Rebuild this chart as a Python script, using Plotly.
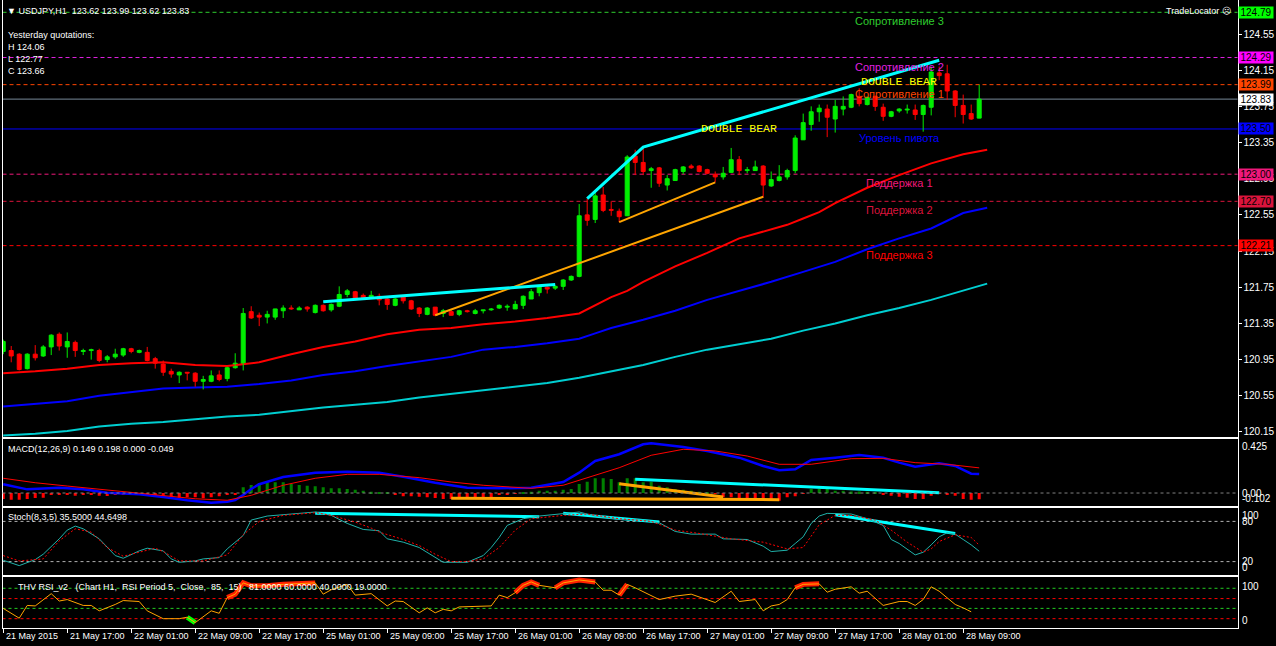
import plotly.graph_objects as go

W, H = 1276, 646

# ---------------------------
# DATOS: velas USDJPY H1
# ---------------------------

opens = [121.04,121.05,121.01,120.85,121.01,120.99,121.09,121.23,121.09,121.14,
         121.04,121.05,121.05,120.95,120.98,121.00,121.07,121.03,121.03,120.96,
         120.90,120.82,120.78,120.81,120.80,120.71,120.71,120.78,120.74,120.86,
         120.90,121.48,121.44,121.42,121.42,121.49,121.52,121.50,121.53,121.47,
         121.55,121.50,121.54,121.67,121.70,121.66,121.63,121.65,121.62,121.55,
         121.64,121.60,121.52,121.45,121.53,121.46,121.48,121.45,121.49,121.46,
         121.49,121.50,121.52,121.53,121.51,121.55,121.62,121.69,121.75,121.74,
         121.76,121.83,121.87,122.55,122.50,122.77,122.61,122.59,122.54,123.20,
         123.13,123.04,123.07,122.88,122.93,123.03,123.09,123.09,123.05,123.00,
         122.97,123.02,123.16,123.04,123.04,123.09,122.87,122.93,122.97,123.04,
         123.38,123.55,123.69,123.72,123.61,123.72,123.74,123.86,123.77,123.86,
         123.74,123.64,123.70,123.71,123.71,123.66,123.74,124.12,124.11,123.92,
         123.76,123.67,123.62]
highs = [121.17,121.10,121.02,121.02,121.11,121.11,121.23,121.25,121.25,121.16,
         121.07,121.07,121.07,121.00,121.07,121.08,121.08,121.06,121.09,120.98,
         120.94,120.85,120.82,120.81,120.81,120.77,120.83,120.83,120.87,121.02,
         121.52,121.54,121.47,121.49,121.51,121.55,121.55,121.54,121.54,121.56,
         121.56,121.57,121.76,121.73,121.71,121.68,121.71,121.68,121.63,121.63,
         121.65,121.61,121.53,121.53,121.53,121.51,121.51,121.50,121.50,121.51,
         121.50,121.52,121.56,121.56,121.60,121.66,121.73,121.77,121.76,121.77,
         121.84,121.88,122.67,122.73,122.80,122.86,122.70,122.62,123.21,123.27,
         123.30,123.08,123.08,122.99,123.06,123.09,123.11,123.10,123.06,123.03,
         123.08,123.29,123.20,123.08,123.15,123.10,123.03,123.10,123.06,123.43,
         123.67,123.75,123.77,123.77,123.82,123.86,123.89,123.95,123.86,123.87,
         123.78,123.70,123.73,123.77,123.77,123.77,124.19,124.19,124.21,123.93,
         123.88,123.77,123.99]
lows = [121.01,120.92,120.83,120.84,120.94,120.98,121.00,121.05,120.97,120.98,
        121.00,120.95,120.92,120.92,120.96,120.98,121.02,121.02,120.93,120.85,
        120.77,120.75,120.69,120.72,120.65,120.62,120.70,120.71,120.71,120.85,
        120.83,121.40,121.32,121.35,121.39,121.41,121.50,121.50,121.48,121.46,
        121.48,121.48,121.53,121.64,121.62,121.61,121.62,121.55,121.50,121.54,
        121.57,121.50,121.42,121.44,121.43,121.42,121.44,121.43,121.47,121.45,
        121.46,121.49,121.51,121.49,121.51,121.51,121.62,121.65,121.68,121.72,
        121.72,121.82,121.86,122.43,122.46,122.58,122.54,122.47,122.54,122.99,
        122.99,122.85,122.86,122.82,122.93,123.00,123.06,123.02,123.00,122.91,
        122.94,123.02,122.99,123.01,123.04,122.74,122.86,122.92,122.94,123.01,
        123.38,123.48,123.58,123.41,123.46,123.65,123.73,123.75,123.76,123.70,
        123.59,123.63,123.68,123.67,123.60,123.47,123.65,124.04,123.82,123.63,
        123.56,123.60,123.62]
closes = [121.15,120.99,120.84,121.01,120.97,121.09,121.22,121.10,121.15,121.05,
          121.05,121.06,120.94,120.98,121.01,121.07,121.04,121.05,120.94,120.91,
          120.81,120.79,120.81,120.80,120.71,120.73,120.77,120.73,120.86,120.91,
          121.46,121.41,121.42,121.45,121.51,121.52,121.51,121.52,121.51,121.55,
          121.49,121.56,121.67,121.71,121.63,121.62,121.66,121.61,121.56,121.62,
          121.60,121.51,121.46,121.52,121.44,121.49,121.44,121.49,121.48,121.49,
          121.50,121.51,121.55,121.54,121.56,121.65,121.70,121.76,121.73,121.76,
          121.83,121.87,122.54,122.49,122.76,122.60,122.60,122.53,123.19,123.13,
          123.03,123.06,122.90,122.95,123.05,123.08,123.07,123.03,123.01,122.97,
          123.01,123.16,123.04,123.05,123.08,122.88,122.94,122.97,123.04,123.40,
          123.57,123.69,123.73,123.63,123.75,123.75,123.88,123.78,123.85,123.75,
          123.64,123.69,123.72,123.72,123.66,123.76,124.13,124.09,123.92,123.76,
          123.66,123.61,123.83]
bar_idx = list(range(len(opens)))

# medias moviles
ma_red_bars = [0,4,8,12,16,20,24,28,32,36,40,44,48,52,56,60,64,68,72,74,76,78,80,84,88,92,96,98,100,102,104,108,112,116,120,123]
ma_red = [120.80,120.82,120.85,120.89,120.91,120.92,120.89,120.88,120.92,121.01,121.09,121.15,121.23,121.28,121.30,121.34,121.37,121.41,
          121.46,121.55,121.64,121.71,121.81,121.98,122.13,122.29,122.39,122.44,122.51,122.58,122.68,122.85,122.99,123.12,123.22,123.27]
ma_blue_bars = [0,4,8,12,16,20,24,28,32,36,40,44,48,52,56,60,64,68,72,74,76,80,84,88,92,96,100,104,108,112,116,120,123]
ma_blue = [120.43,120.46,120.49,120.55,120.59,120.63,120.64,120.65,120.68,120.72,120.78,120.82,120.88,120.93,120.98,121.06,121.09,
           121.13,121.18,121.24,121.30,121.39,121.49,121.61,121.71,121.81,121.92,122.03,122.17,122.29,122.40,122.57,122.63]
ma_cyan_bars = [0,4,8,12,16,20,24,28,32,36,40,44,48,52,56,60,64,68,72,76,80,84,88,92,96,100,104,108,112,116,120,123]
ma_cyan = [120.11,120.13,120.16,120.21,120.24,120.26,120.29,120.32,120.34,120.38,120.42,120.45,120.48,120.53,120.57,120.61,
           120.65,120.69,120.75,120.82,120.89,120.98,121.06,121.12,121.18,121.27,121.35,121.44,121.52,121.61,121.71,121.79]

# lineas de tendencia dibujadas
cyan_trend_a_bars = [40, 69]
cyan_trend_a = [121.59, 121.78]
cyan_trend_b_bars = [73, 80, 117]
cyan_trend_b = [122.73, 123.30, 124.26]
orange_trend_a_bars = [54, 95]
orange_trend_a = [121.44, 122.75]
orange_trend_b_bars = [77, 89]
orange_trend_b = [122.47, 122.91]

# niveles
level_prices = [124.79, 124.29, 123.99, 123.50, 123.00, 122.70, 122.21]
level_names = ["Сопротивление 3", "Сопротивление 2", "Сопротивление 1", "Уровень пивота",
               "Поддержка 1", "Поддержка 2", "Поддержка 3"]
level_colors = ["#2ECC2E", "#E020E0", "#FF4500", "#0000FF", "#F0187A", "#DC143C", "#FF0000"]
level_box_colors = ["#00FF00", "#FF00FF", "#FF4500", "#0000FF", "#F0187A", "#DC143C", "#FF0000"]
level_dash = ["4px,3px", "4px,3px", "4px,3px", "solid", "4px,3px", "4px,3px", "4px,3px"]
last_price = 123.83

signal_text_bars = [92, 112]
signal_text_prices = [123.51, 124.02]

price_ticks = [120.15, 120.55, 120.95, 121.35, 121.75, 122.15, 122.55, 122.95, 123.35, 123.75, 124.15, 124.55]
date_ticks = [0, 8, 16, 24, 32, 40, 48, 56, 64, 72, 80, 88, 96, 104, 112, 120]
date_labels = ["21 May 2015", "21 May 17:00", "22 May 01:00", "22 May 09:00", "22 May 17:00",
               "25 May 01:00", "25 May 09:00", "25 May 17:00", "26 May 01:00", "26 May 09:00",
               "26 May 17:00", "27 May 01:00", "27 May 09:00", "27 May 17:00", "28 May 01:00",
               "28 May 09:00"]

# MACD(12,26,9)
macd_bars = [0,3,7,10,13,17,20,23,26,28,29,30,31,32,35,39,43,47,50,54,58,62,66,70,72,74,77,80,81,85,88,92,95,97,99,101,104,107,110,112,114,117,119,121,122]
macd_vals = [0.069,0.029,0.042,0.029,0.003,-0.010,-0.031,-0.057,-0.076,-0.068,-0.055,-0.015,0.032,0.069,0.126,0.160,0.168,0.160,
             0.128,0.081,0.042,0.037,0.042,0.087,0.160,0.252,0.305,0.383,0.391,0.362,0.331,0.278,0.213,0.179,0.187,0.260,0.278,
             0.299,0.278,0.239,0.207,0.234,0.213,0.152,0.149]
signal_bars = [0,4,8,12,16,20,24,28,31,35,39,43,47,52,56,60,66,70,73,77,81,85,89,93,97,101,106,110,114,118,122]
signal_vals = [0.116,0.081,0.055,0.029,0.003,-0.018,-0.045,-0.057,-0.018,0.061,0.116,0.147,0.147,0.121,0.087,0.061,0.037,
               0.061,0.121,0.199,0.297,0.344,0.331,0.291,0.226,0.226,0.270,0.273,0.239,0.226,0.198]
macd_hist = [-0.047,-0.053,-0.053,-0.047,-0.039,-0.037,-0.016,-0.010,-0.016,-0.021,
             -0.016,-0.010,-0.021,-0.024,-0.016,-0.010,-0.008,-0.010,-0.016,-0.021,
             -0.029,-0.037,-0.037,-0.034,-0.034,-0.042,-0.034,-0.026,-0.016,-0.008,
             0.045,0.063,0.076,0.084,0.084,0.084,0.071,0.063,0.057,0.053,
             0.045,0.037,0.037,0.031,0.026,0.018,0.010,0.006,0.002,-0.016,
             -0.026,-0.026,-0.029,-0.034,-0.039,-0.047,-0.047,-0.047,-0.047,-0.047,
             -0.047,-0.039,-0.016,-0.016,-0.006,0.004,0.010,0.018,0.018,0.018,
             0.026,0.031,0.071,0.089,0.116,0.116,0.110,0.084,0.116,0.116,
             0.084,0.089,0.057,0.045,0.031,0.026,0.018,0.010,0.006,-0.004,
             -0.034,-0.034,-0.047,-0.047,-0.047,-0.047,-0.047,-0.061,-0.034,-0.026,
             -0.006,0.031,0.031,0.031,0.018,0.018,0.013,0.013,0.010,0.006,
             -0.016,-0.021,-0.029,-0.037,-0.047,-0.047,-0.021,-0.006,-0.016,-0.021,
             -0.047,-0.053,-0.049]
macd_orange_a_bars = [56, 97]
macd_orange_a = [-0.041, -0.052]
macd_orange_b_bars = [77, 90]
macd_orange_b = [0.073, -0.031]
macd_cyan_bars = [79, 117]
macd_cyan = [0.108, 0.003]

# Stoch(8,3,5)
stoch_k_bars = [0,2,4,5,7,8,9,10,12,14,15,17,18,20,21,22,24,25,27,28,30,31,33,36,39,41,43,45,47,48,50,52,54,55,58,60,61,62,63,65,
                67,70,72,74,77,80,82,84,86,89,90,93,95,96,98,99,100,101,102,103,106,108,110,111,112,114,115,116,117,118,119,120,121,122]
stoch_k = [22,14,23,31,54,67,73,69,54,29,25,36,40,36,24,19,21,24,26,39,59,82,88,91,94,89,77,68,66,54,49,41,26,19,19,29,41,56,74,84,
           88,91,94,88,83,82,78,65,61,61,54,53,43,35,37,47,57,77,88,92,91,84,74,53,47,30,34,45,57,63,61,53,45,35.5]
stoch_d_bars = [0,2,5,7,9,11,13,15,17,19,20,22,25,28,30,32,35,39,41,44,46,47,50,52,54,56,58,60,62,64,66,70,73,77,81,84,87,91,95,98,
                100,101,102,104,106,109,111,113,115,116,117,119,121,122]
stoch_d = [29,21,24,51,69,64,41,28,34,40,35,21,21,30,60,80,89,93,89,79,70,64,53,44,31,20,20,24,41,67,84,89,91,84,80,67,62,54,49,39,
           41,59,75,89,89,82,67,49,34,39,50,60,56,44.65]
stoch_cyan_a_bars = [39, 67]
stoch_cyan_a = [92, 87]
stoch_cyan_b_bars = [70, 82]
stoch_cyan_b = [92, 79]
stoch_cyan_c_bars = [104, 119]
stoch_cyan_c = [90, 62]

# THV RSI_v2 (RSI 5)
rsi_bars = [0,2,3,4,6,7,8,10,11,12,14,15,17,18,20,22,23,24,26,27,28,29,30,31,33,35,39,40,41,43,44,46,48,49,50,52,53,54,55,56,
            57,61,62,63,64,65,66,67,69,70,72,74,75,76,77,78,79,80,82,84,86,89,91,92,94,95,96,97,98,99,100,102,103,104,106,107,108,
            110,112,113,114,115,116,117,119,120,121]
rsi_vals = [40,20,46,45,70,55,58,46,46,35,48,56,54,35,19,19,22,11,35,30,62,69,92,86,86,89,92,69,78,89,67,70,45,55,54,31,41,31,38,35,
            43,45,67,62,72,87,94,87,82,92,98,94,77,77,67,89,82,74,58,65,69,52,75,54,58,35,45,48,58,82,89,90,73,79,84,71,75,
            46,54,54,46,58,84,75,48,41,33]
rsi_hot_ranges = [(28, 39), (64, 67), (69, 74), (77, 78), (99, 102)]
rsi_cold_ranges = [(23, 24)]
rsi_levels = [81, 60, 40, 19]
rsi_level_colors = ["#22CC22", "#FF0000", "#22CC22", "#FF0000"]

# ---------------------------
# FIGURA
# ---------------------------

FONT = "Liberation Sans, Arial, sans-serif"


def dom(top_px, bot_px):
    return [(H - bot_px) / H, (H - top_px) / H]


def pick(bx, vals, ranges):
    xs, ys = [], []
    for lo, hi in ranges:
        for b, v in zip(bx, vals):
            if lo <= b <= hi:
                xs.append(b)
                ys.append(v)
        xs.append(None)
        ys.append(None)
    return xs, ys


fig = go.Figure()


def line(x, y, color, width, ax="", dash=None):
    fig.add_trace(go.Scatter(x=x, y=y, mode="lines", hoverinfo="skip",
                             line=dict(color=color, width=width, dash=dash),
                             xaxis="x" + ax, yaxis="y" + ax))


# medias moviles
line(ma_cyan_bars, ma_cyan, "#00CED1", 2)
line(ma_blue_bars, ma_blue, "#0000FF", 2)
line(ma_red_bars, ma_red, "#FF0000", 2)

# velas: mechas y cuerpos
for up, col in [(True, "#00EE00"), (False, "#FF0000")]:
    wx, wy = [], []
    for i in bar_idx:
        if (closes[i] >= opens[i]) == up:
            wx += [i, i, None]
            wy += [lows[i], highs[i], None]
    line(wx, wy, col, 1)

body_base = [min(o, c) for o, c in zip(opens, closes)]
body_h = [max(abs(c - o), 0.004) for o, c in zip(opens, closes)]
body_col = ["#00EE00" if c >= o else "#FF0000" for o, c in zip(opens, closes)]
fig.add_trace(go.Bar(x=bar_idx, y=body_h, base=body_base, width=0.5,
                     marker=dict(color=body_col, line=dict(color=body_col, width=1)),
                     hoverinfo="skip", xaxis="x", yaxis="y"))

# tendencias
line(orange_trend_a_bars, orange_trend_a, "#FFA500", 2)
line(orange_trend_b_bars, orange_trend_b, "#FFA500", 2)
line(cyan_trend_a_bars, cyan_trend_a, "#00FFFF", 3)
line(cyan_trend_b_bars, cyan_trend_b, "#00FFFF", 3)

# MACD
hist_col = ["#008000" if v >= 0 else "#FF0000" for v in macd_hist]
fig.add_trace(go.Bar(x=bar_idx, y=macd_hist, width=0.38, marker=dict(color=hist_col, line=dict(width=0)),
                     hoverinfo="skip", xaxis="x2", yaxis="y2"))
line(macd_orange_a_bars, macd_orange_a, "#FFA500", 3, "2")
line(macd_orange_b_bars, macd_orange_b, "#FFA500", 3, "2")
line(macd_cyan_bars, macd_cyan, "#00FFFF", 3, "2")
line(macd_bars, macd_vals, "#0000FF", 2.5, "2")
line(signal_bars, signal_vals, "#FF0000", 1, "2")

# Stoch
line(stoch_cyan_a_bars, stoch_cyan_a, "#00FFFF", 3, "3")
line(stoch_cyan_b_bars, stoch_cyan_b, "#00FFFF", 3, "3")
line(stoch_cyan_c_bars, stoch_cyan_c, "#00FFFF", 3, "3")
line(stoch_k_bars, stoch_k, "#20B2AA", 1, "3")
line(stoch_d_bars, stoch_d, "#FF0000", 1, "3", dash="2px,2px")

# RSI
hx, hy = pick(rsi_bars, rsi_vals, rsi_hot_ranges)
line(hx, hy, "#FF2000", 5, "4")
cx, cy = pick(rsi_bars, rsi_vals, rsi_cold_ranges)
line(cx, cy, "#00FF00", 5, "4")
line(rsi_bars, rsi_vals, "#FFA500", 1, "4")

# ---------------------------
# EJES
# ---------------------------

xdom = [2.5 / W, 1237.5 / W]
xr = [-0.09, 154.29]
axis_x = dict(domain=xdom, range=xr, showgrid=False, zeroline=False, showticklabels=False,
              showline=True, linecolor="white", linewidth=1, fixedrange=True)
axis_y = dict(showgrid=False, zeroline=False, showline=True, mirror=True, linecolor="white",
              linewidth=1, side="right", showticklabels=False, ticks="")

layout_axes = dict(
    xaxis=dict(axis_x, anchor="y", rangeslider=dict(visible=False)),
    xaxis2=dict(axis_x, anchor="y2", mirror=True),
    xaxis3=dict(axis_x, anchor="y3", mirror=True),
    xaxis4=dict(axis_x, anchor="y4", mirror=True, ticks="outside", ticklen=4, tickcolor="white",
                tickvals=date_ticks),
    yaxis=dict(axis_y, domain=dom(0, 437), range=[120.094, 124.926], showticklabels=True,
               ticks="outside", ticklen=3, tickcolor="white", tickvals=price_ticks,
               ticktext=["%.2f" % v for v in price_ticks],
               tickfont=dict(color="white", size=10, family=FONT), anchor="x"),
    yaxis2=dict(axis_y, domain=dom(439, 506), range=[-0.102, 0.425], anchor="x2"),
    yaxis3=dict(axis_y, domain=dom(508, 575), range=[0, 100], anchor="x3"),
    yaxis4=dict(axis_y, domain=dom(577, 628), range=[0, 104], anchor="x4"),
)

# ---------------------------
# NIVELES Y TEXTOS
# ---------------------------

shapes = []
ann = []
for p, name, c, bc, d in zip(level_prices, level_names, level_colors, level_box_colors, level_dash):
    shapes.append(dict(type="line", xref="x domain", x0=0, x1=1, yref="y", y0=p, y1=p,
                       line=dict(color=c, width=1, dash=d), layer="below"))
    ann.append(dict(x=112, y=p, xref="x", yref="y", text=name, showarrow=False, xanchor="center",
                    yanchor="top", yshift=-1, font=dict(color=c, size=11, family=FONT)))
    ann.append(dict(x=1238 / W, y=p, xref="paper", yref="y", text="%.2f" % p, showarrow=False,
                    xanchor="left", yanchor="middle", bgcolor=bc, width=34, height=11, borderpad=0,
                    font=dict(color="black", size=10, family=FONT)))
shapes.append(dict(type="line", xref="x domain", x0=0, x1=1, yref="y", y0=last_price, y1=last_price,
                   line=dict(color="#778899", width=1), layer="below"))
ann.append(dict(x=1238 / W, y=last_price, xref="paper", yref="y", text="%.2f" % last_price,
                showarrow=False, xanchor="left", yanchor="middle", bgcolor="white", width=34, height=11,
                borderpad=0, font=dict(color="black", size=10, family=FONT)))

for b, p in zip(signal_text_bars, signal_text_prices):
    ann.append(dict(x=b, y=p, xref="x", yref="y", text="DOUBLE BEAR", showarrow=False,
                    font=dict(color="#FFFF00", size=11.5, family="Liberation Mono, monospace")))

# niveles de subventanas
shapes.append(dict(type="line", xref="x2 domain", x0=0, x1=1, yref="y2", y0=0, y1=0,
                   line=dict(color="#808080", width=1, dash="3px,3px")))
for lv in [80, 20]:
    shapes.append(dict(type="line", xref="x3 domain", x0=0, x1=1, yref="y3", y0=lv, y1=lv,
                       line=dict(color="#B0B0B0", width=1, dash="3px,3px"), layer="below"))
for lv, c in zip(rsi_levels, rsi_level_colors):
    shapes.append(dict(type="line", xref="x4 domain", x0=0, x1=1, yref="y4", y0=lv, y1=lv,
                       line=dict(color=c, width=1, dash="3px,3px"), layer="below"))

small = dict(color="white", size=9, family=FONT)


def txt(x_px, y_px, text, anchor="left", font=small):
    ann.append(dict(x=x_px / W, y=(H - y_px) / H, xref="paper", yref="paper", text=text,
                    showarrow=False, xanchor=anchor, yanchor="middle", font=font))


txt(5, 11, "▼ USDJPY,H1\u00a0\u00a0123.62 123.99 123.62 123.83")
for k, s in enumerate(["Yesterday quotations:", "H 124.06", "L 122.77", "C 123.66"]):
    txt(6, 35 + 12 * k, s)
txt(1233, 11, "TradeLocator ☹", anchor="right")
txt(6, 449, "MACD(12,26,9) 0.149 0.198 0.000 -0.049")
txt(6, 517, "Stoch(8,3,5) 35.5000 44.6498")
txt(16, 587, "THV RSI_v2\u00a0\u00a0\u00a0(Chart H1,\u00a0\u00a0RSI Period 5,\u00a0\u00a0Close,\u00a0\u00a085,\u00a0\u00a015)"
             "\u00a0\u00a0\u00a081.0000 60.0000 40.0000 19.0000")

# etiquetas del eje derecho de subventanas
rl = dict(color="white", size=10, family=FONT)
for ref, val, anc, s in [("y2", 0.425, "top", "0.425"), ("y2", 0.0, "middle", "0.00"),
                         ("y2", -0.102, "bottom", "-0.102"), ("y3", 100, "top", "100"),
                         ("y3", 80, "middle", "80"), ("y3", 20, "middle", "20"),
                         ("y3", 0, "bottom", "0"), ("y4", 100, "top", "100"), ("y4", 0, "bottom", "0")]:
    ann.append(dict(x=1240 / W, y=val, xref="paper", yref=ref, text=s, showarrow=False,
                    xanchor="left", yanchor=anc, font=rl))

# fechas
for b, s in zip(date_ticks, date_labels):
    ann.append(dict(x=b, y=(H - 636) / H, xref="x4", yref="paper", text=s, showarrow=False,
                    xanchor="left", yanchor="middle", xshift=1, font=small))

fig.update_layout(
    width=W, height=H, margin=dict(l=0, r=0, t=0, b=0),
    paper_bgcolor="black", plot_bgcolor="black", showlegend=False,
    barmode="overlay", font=dict(family=FONT, color="white"),
    shapes=shapes, annotations=ann, **layout_axes,
)

# sin margen del body para que el grafico quede en (0, 0); sin barra de herramientas
fig.write_html("out.html", config={"displayModeBar": False},
               post_script="document.body.style.margin='0';document.body.style.background='black';")
